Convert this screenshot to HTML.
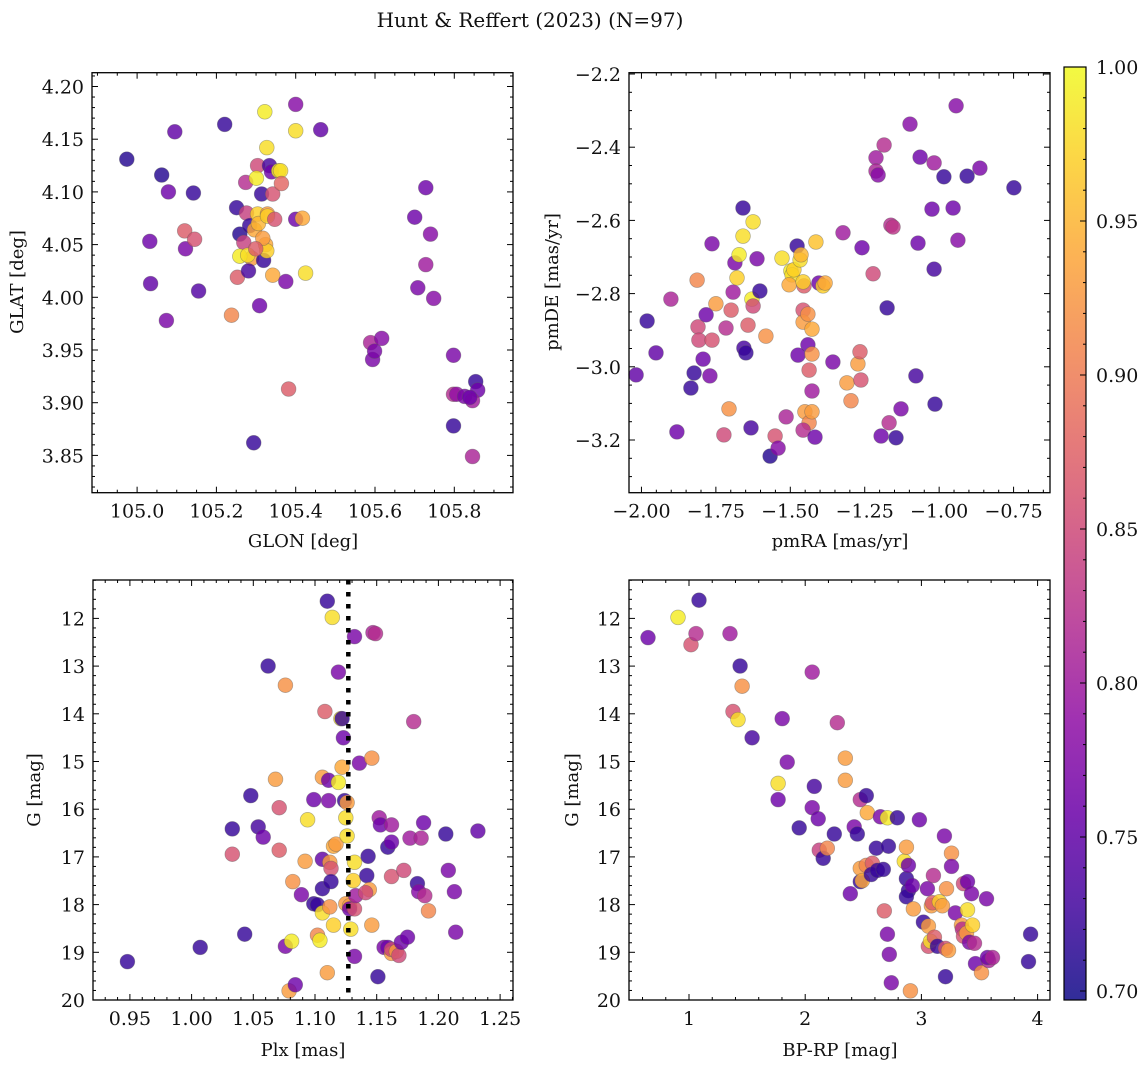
<!DOCTYPE html>
<html><head><meta charset="utf-8"><style>
html,body{margin:0;padding:0;background:#fff;}
svg text{font-family:"DejaVu Serif","Liberation Serif",serif;fill:#111;}
</style></head><body>
<svg id="fig" width="1148" height="1068" viewBox="0 0 1148 1068" xmlns="http://www.w3.org/2000/svg">
<text x="530" y="27" text-anchor="middle" font-size="20">Hunt &amp; Reffert (2023) (N=97)</text>
<text x="303" y="547" text-anchor="middle" font-size="18">GLON [deg]</text>
<text x="840" y="547" text-anchor="middle" font-size="18">pmRA [mas/yr]</text>
<text x="303" y="1056" text-anchor="middle" font-size="18">Plx [mas]</text>
<text x="840" y="1056" text-anchor="middle" font-size="18">BP-RP [mag]</text>
<text transform="translate(23,282) rotate(-90)" text-anchor="middle" font-size="18">GLAT [deg]</text>
<text transform="translate(558,282) rotate(-90)" text-anchor="middle" font-size="18">pmDE [mas/yr]</text>
<text transform="translate(40,790) rotate(-90)" text-anchor="middle" font-size="18">G [mag]</text>
<text transform="translate(578,790) rotate(-90)" text-anchor="middle" font-size="18">G [mag]</text>
</svg>
<script>
// ---- data ----
const tlLon=[104.974,105.062,105.095,105.079,105.032,105.034,105.074,105.120,105.122,105.145,105.142,105.155,105.221,105.251,105.238,105.253,105.259,105.269,105.274,105.276,105.284,105.294,105.289,105.259,105.279,105.281,105.296,105.304,105.301,105.304,105.306,105.309,105.314,105.319,105.322,105.327,105.329,105.324,105.329,105.334,105.339,105.342,105.347,105.357,105.362,105.364,105.342,105.375,105.382,105.400,105.400,105.400,105.417,105.425,105.463,105.327,105.317,105.299,105.700,105.728,105.708,105.728,105.740,105.748,105.589,105.594,105.599,105.617,105.798,105.798,105.806,105.826,105.854,105.859,105.846,105.846,105.798,105.839];
const tlLat=[4.131,4.116,4.157,4.100,4.053,4.013,3.978,4.063,4.046,4.055,4.099,4.006,4.164,4.085,3.983,4.019,4.060,4.052,4.109,4.080,4.068,3.862,4.037,4.039,4.040,4.025,4.064,4.125,4.113,4.079,4.070,3.992,4.098,4.035,4.176,4.142,4.079,4.050,4.077,4.125,4.119,4.098,4.074,4.120,4.120,4.108,4.021,4.015,3.913,4.183,4.158,4.074,4.075,4.023,4.159,4.044,4.056,4.046,4.076,4.104,4.009,4.031,4.060,3.999,3.957,3.941,3.949,3.961,3.945,3.908,3.908,3.906,3.920,3.912,3.902,3.849,3.878,3.905];
const tlProb=[.71,.71,.75,.76,.76,.75,.77,.87,.77,.86,.72,.74,.72,.72,.91,.87,.71,.84,.82,.84,.72,.72,.93,.99,.98,.73,.94,.85,.99,.97,.95,.76,.72,.72,.99,.98,.93,.94,.97,.73,.76,.86,.86,.99,.98,.88,.94,.77,.87,.78,.98,.76,.94,.98,.75,.97,.93,.87,.76,.76,.77,.80,.78,.78,.81,.77,.77,.78,.77,.82,.79,.77,.72,.76,.80,.81,.72,.76];

const trPmra=[-2.018,-1.981,-1.951,-1.901,-1.881,-1.834,-1.823,-1.813,-1.810,-1.807,-1.793,-1.783,-1.770,-1.763,-1.763,-1.750,-1.723,-1.716,-1.706,-1.699,-1.692,-1.686,-1.679,-1.672,-1.659,-1.659,-1.656,-1.649,-1.642,-1.632,-1.629,-1.625,-1.625,-1.612,-1.602,-1.582,-1.568,-1.551,-1.541,-1.528,-1.514,-1.498,-1.494,-1.504,-1.488,-1.477,-1.467,-1.464,-1.454,-1.457,-1.457,-1.457,-1.441,-1.441,-1.437,-1.427,-1.451,-1.437,-1.474,-1.457,-1.427,-1.427,-1.427,-1.417,-1.414,-1.404,-1.390,-1.383,-1.357,-1.323,-1.310,-1.296,-1.273,-1.266,-1.263,-1.259,-1.222,-1.212,-1.212,-1.205,-1.195,-1.185,-1.175,-1.168,-1.162,-1.155,-1.145,-1.128,-1.098,-1.078,-1.071,-1.064,-1.024,-1.017,-1.014,-1.017,-0.943,-0.953,-0.937,-0.984,-0.906,-0.863,-0.749];
const trPmde=[-3.022,-2.875,-2.962,-2.815,-3.178,-3.058,-3.017,-2.763,-2.891,-2.927,-2.979,-2.858,-3.025,-2.664,-2.927,-2.828,-3.186,-2.894,-3.115,-2.845,-2.796,-2.716,-2.757,-2.694,-2.566,-2.643,-2.949,-2.962,-2.886,-3.167,-2.815,-2.834,-2.604,-2.705,-2.793,-2.916,-3.244,-3.189,-3.222,-2.703,-3.137,-2.738,-2.749,-2.776,-2.735,-2.670,-2.708,-2.694,-2.779,-2.768,-2.845,-2.878,-2.856,-2.940,-3.009,-3.066,-3.123,-3.153,-2.968,-3.173,-3.123,-2.897,-2.965,-3.192,-2.659,-2.771,-2.779,-2.771,-2.987,-2.634,-3.044,-3.093,-2.992,-2.959,-3.036,-2.675,-2.746,-2.429,-2.465,-2.476,-3.189,-2.394,-2.839,-3.153,-2.613,-2.618,-3.194,-3.115,-2.337,-3.025,-2.662,-2.427,-2.569,-2.443,-3.102,-2.733,-2.287,-2.566,-2.654,-2.481,-2.479,-2.457,-2.511];
const trProb=[.75,.72,.75,.81,.76,.72,.72,.91,.85,.85,.76,.76,.77,.77,.86,.93,.85,.82,.92,.87,.80,.77,.97,.99,.72,.98,.73,.72,.87,.73,.99,.85,.98,.77,.72,.92,.71,.86,.78,.98,.81,.99,.98,.94,.97,.72,.98,.95,.87,.97,.86,.93,.92,.76,.87,.80,.93,.91,.76,.82,.93,.94,.92,.76,.96,.76,.97,.94,.77,.80,.93,.91,.93,.87,.86,.76,.85,.80,.81,.78,.76,.82,.72,.82,.82,.83,.72,.77,.78,.73,.76,.76,.76,.80,.72,.73,.78,.76,.78,.72,.72,.77,.72];

const blPlx=[0.948,1.007,1.043,1.048,1.033,1.033,1.054,1.058,1.062,1.068,1.071,1.071,1.076,1.076,1.079,1.081,1.082,1.084,1.089,1.094,1.092,1.099,1.099,1.102,1.102,1.104,1.106,1.106,1.106,1.106,1.108,1.110,1.110,1.111,1.111,1.112,1.112,1.113,1.113,1.114,1.115,1.115,1.117,1.119,1.121,1.122,1.119,1.122,1.123,1.124,1.125,1.126,1.126,1.125,1.128,1.128,1.129,1.131,1.132,1.132,1.132,1.133,1.132,1.136,1.142,1.144,1.141,1.143,1.146,1.146,1.147,1.149,1.151,1.152,1.153,1.156,1.159,1.159,1.162,1.162,1.162,1.162,1.162,1.166,1.168,1.170,1.172,1.175,1.177,1.180,1.183,1.184,1.186,1.189,1.192,1.188,1.206,1.208,1.214,1.213,1.232];
const blG=[19.194,18.897,18.621,15.714,16.944,16.414,16.371,16.584,12.997,15.374,16.859,15.968,13.401,18.875,19.809,18.769,17.517,19.682,17.793,16.223,17.093,15.798,17.984,18.642,18.005,18.748,17.666,18.175,17.050,15.332,13.952,11.639,19.427,15.395,15.820,18.048,17.114,17.241,17.517,11.979,18.430,16.775,16.732,13.125,14.101,14.101,15.438,15.119,14.504,15.820,16.180,16.562,15.862,17.984,18.026,18.090,18.514,17.496,17.114,18.090,19.087,17.814,12.382,15.034,17.390,17.687,17.751,16.987,18.430,14.928,12.297,12.318,19.512,16.180,16.329,18.897,18.897,16.796,16.690,16.329,17.411,19.024,18.939,18.982,19.066,18.790,17.284,18.684,16.605,14.164,17.560,17.729,16.605,17.814,18.133,16.286,16.520,17.284,18.578,17.729,16.456];
const blProb=[.72,.72,.72,.72,.86,.72,.73,.76,.72,.93,.87,.86,.92,.77,.93,.99,.92,.76,.77,.98,.93,.76,.72,.91,.72,.99,.72,.98,.75,.93,.87,.72,.93,.76,.77,.92,.93,.86,.72,.98,.97,.94,.93,.77,.98,.72,.99,.94,.76,.72,.98,.98,.93,.93,.93,.76,.98,.97,.98,.86,.77,.80,.77,.77,.72,.93,.85,.72,.93,.92,.81,.82,.72,.80,.76,.77,.76,.72,.76,.80,.86,.93,.85,.93,.85,.76,.85,.76,.80,.82,.72,.78,.81,.82,.91,.76,.72,.77,.77,.77,.75];
const plxMean=1.127;

const brColor=[0.647,0.905,1.017,1.060,1.086,1.353,1.440,1.457,1.379,1.422,1.543,1.767,1.767,1.802,1.845,1.948,2.060,2.078,2.060,2.112,2.121,2.155,2.190,2.250,2.276,2.345,2.345,2.388,2.422,2.448,2.474,2.474,2.474,2.491,2.534,2.526,2.526,2.578,2.569,2.612,2.621,2.647,2.672,2.681,2.707,2.707,2.716,2.724,2.741,2.793,2.853,2.871,2.888,2.888,2.871,2.871,2.905,2.922,2.931,2.983,3.017,3.052,3.060,3.060,3.078,3.086,3.095,3.103,3.112,3.138,3.155,3.181,3.198,3.207,3.207,3.216,3.233,3.259,3.259,3.293,3.345,3.362,3.353,3.362,3.388,3.397,3.397,3.414,3.431,3.440,3.457,3.466,3.517,3.578,3.560,3.569,3.612,3.940,3.922];
const brG=[12.403,11.979,12.552,12.318,11.618,12.318,12.997,13.422,13.952,14.122,14.504,15.459,15.798,14.101,15.013,16.392,13.125,15.523,15.968,16.202,16.859,17.029,16.817,16.520,14.186,14.928,15.395,17.772,16.371,16.520,15.798,17.517,17.241,17.496,16.074,15.714,17.178,17.135,17.369,16.817,17.284,16.159,17.263,18.133,18.621,16.180,16.775,19.045,19.639,16.180,17.093,17.454,17.178,17.708,17.836,16.796,19.809,17.602,18.090,16.223,18.366,17.666,18.875,18.451,18.769,18.026,17.963,17.390,18.684,18.875,17.942,18.026,16.562,18.918,19.512,17.666,18.960,16.923,17.199,18.175,18.430,17.560,18.514,18.663,18.600,17.517,18.111,18.790,17.772,18.430,18.812,19.236,19.427,19.172,17.878,19.109,19.109,18.621,19.194];
const brProb=[.76,.99,.86,.82,.72,.80,.72,.92,.86,.98,.73,.98,.76,.77,.77,.72,.80,.73,.77,.76,.84,.72,.91,.72,.82,.93,.93,.76,.77,.72,.82,.72,.93,.94,.94,.72,.91,.87,.72,.72,.72,.77,.72,.87,.77,.99,.72,.77,.77,.72,.98,.72,.76,.72,.72,.93,.92,.76,.93,.76,.72,.77,.86,.93,.98,.93,.87,.82,.87,.72,.97,.93,.77,.86,.72,.92,.93,.92,.77,.77,.93,.85,.82,.86,.93,.76,.98,.77,.77,.97,.82,.76,.92,.81,.77,.76,.81,.72,.72];

const cbTicks=[0.70,0.75,0.80,0.85,0.90,0.95,1.00];
const cbMin=0.697, cbMax=1.0;

// ---- helpers ----
const NS='http://www.w3.org/2000/svg';
const svg=document.getElementById('fig');
function mk(tag,attrs,parent){const e=document.createElementNS(NS,tag);for(const k in attrs)e.setAttribute(k,attrs[k]);(parent||svg).appendChild(e);return e;}
const stops=[[13,8,135],[65,4,157],[106,0,168],[143,13,164],[177,42,144],[204,71,120],[225,100,98],[242,132,75],[252,166,54],[252,206,37],[240,249,33]];
function plasma(t){t=Math.max(0,Math.min(1,t));const f=t*10,i=Math.min(9,Math.floor(f)),u=f-i;const a=stops[i],b=stops[i+1];return 'rgb('+a.map((v,k)=>Math.round(v+(b[k]-v)*u)).join(',')+')';}
function cmap(p){return plasma((p-cbMin)/(cbMax-cbMin));}
function fmt(v,d){const s=Math.abs(v).toFixed(d);return (v<-1e-9?'\u2212':'')+s;}

function panel(cfg){
  const g=mk('g',{});
  
  
  const {x0,x1,y0,y1}=cfg;
  const pg=mk('g',{},g);
  
  
  if(cfg.vline!==undefined){
    const l=mk('line',{x1:cfg.sx(cfg.vline),x2:cfg.sx(cfg.vline),y1:y0,y2:y1,stroke:'#000','stroke-width':4.5,'stroke-dasharray':'4.5,7.5'},g);
    
    
  }
  for(let i=0;i<cfg.xs.length;i++){
    const c=mk('circle',{cx:cfg.sx(cfg.xs[i]).toFixed(1),cy:cfg.sy(cfg.ys[i]).toFixed(1),r:7.4,fill:cmap(cfg.ps[i]),'fill-opacity':0.82,stroke:'rgba(90,90,90,0.45)','stroke-width':0.7},pg);
    
    
  }
  const tg=mk('g',{stroke:'#000','stroke-width':1},g);
  
  
  const xlo=Math.min(cfg.ix(x0),cfg.ix(x1)),xhi=Math.max(cfg.ix(x0),cfg.ix(x1));
  for(let k=Math.ceil(xlo/cfg.xmin-1e-6);k*cfg.xmin<=xhi+1e-9;k++){
    const v=k*cfg.xmin,px=cfg.sx(v);if(px<x0-0.5||px>x1+0.5)continue;
    const major=Math.abs(v/cfg.xmaj-Math.round(v/cfg.xmaj))<1e-6;const L=major?6:3;
    mk('line',{x1:px,x2:px,y1:y1,y2:y1-L},tg);mk('line',{x1:px,x2:px,y1:y0,y2:y0+L},tg);
    if(major){const t=mk('text',{x:px,y:y1+25,'text-anchor':'middle','font-size':19,stroke:'none'},g);t.textContent=fmt(v,cfg.xd);
      
      }
  }
  const ylo=Math.min(cfg.iy(y0),cfg.iy(y1)),yhi=Math.max(cfg.iy(y0),cfg.iy(y1));
  for(let k=Math.ceil(ylo/cfg.ymin-1e-6);k*cfg.ymin<=yhi+1e-9;k++){
    const v=k*cfg.ymin,py=cfg.sy(v);if(py<y0-0.5||py>y1+0.5)continue;
    const major=Math.abs(v/cfg.ymaj-Math.round(v/cfg.ymaj))<1e-6;const L=major?6:3;
    mk('line',{x1:x0,x2:x0+L,y1:py,y2:py},tg);mk('line',{x1:x1,x2:x1-L,y1:py,y2:py},tg);
    if(major){const t=mk('text',{x:x0-8,y:py+7,'text-anchor':'end','font-size':19,stroke:'none'},g);t.textContent=fmt(v,cfg.yd);
      
      }
  }
  const fr=mk('rect',{x:x0,y:y0,width:x1-x0,height:y1-y0,fill:'none',stroke:'#000','stroke-width':1.3},g);
  
  
}
function lin(v0,p0,scale){return [v=>p0+(v-v0)*scale, p=>v0+(p-p0)/scale];}

let a,b;
[a,b]=lin(105.8,454.3,396.5);const tlx=a,tlix=b;
[a,b]=lin(4.0,297.3,-1054);const tly=a,tliy=b;
panel({name:'glon-glat-panel',x0:92,x1:513,y0:72.7,y1:492.7,sx:tlx,ix:tlix,sy:tly,iy:tliy,xs:tlLon,ys:tlLat,ps:tlProb,xmaj:0.2,xmin:0.05,xd:1,ymaj:0.05,ymin:0.01,yd:2});
[a,b]=lin(-1.5,790.3,297.7);const trx=a,trix=b;
[a,b]=lin(-2.2,74,-366);const try_=a,triy=b;
panel({name:'pm-panel',x0:629,x1:1050,y0:72.7,y1:492.7,sx:trx,ix:trix,sy:try_,iy:triy,xs:trPmra,ys:trPmde,ps:trProb,xmaj:0.25,xmin:0.05,xd:2,ymaj:0.2,ymin:0.05,yd:1});
[a,b]=lin(1.1,315,1234);const blx=a,blix=b;
[a,b]=lin(20,1000,47.7);const gy=a,giy=b;
panel({name:'plx-g-panel',x0:93,x1:513,y0:580,y1:1000,sx:blx,ix:blix,sy:gy,iy:giy,xs:blPlx,ys:blG,ps:blProb,xmaj:0.05,xmin:0.01,xd:2,ymaj:1,ymin:0.2,yd:0,vline:plxMean});
[a,b]=lin(1,689,116.2);const brx=a,brix=b;
panel({name:'cmd-panel',x0:629,x1:1050,y0:580,y1:1000,sx:brx,ix:brix,sy:gy,iy:giy,xs:brColor,ys:brG,ps:brProb,xmaj:1,xmin:0.2,xd:0,ymaj:1,ymin:0.2,yd:0});

// colorbar
const defs=mk('defs',{});
const grad=mk('linearGradient',{id:'cbg',x1:0,y1:1,x2:0,y2:0},defs);
for(let i=0;i<=20;i++){mk('stop',{offset:(i/20),'stop-color':plasma(i/20),'stop-opacity':0.85},grad);}
const cbY=v=>991-(v-0.70)*3080;
const cb=mk('g',{});


mk('rect',{x:1064,y:67,width:22,height:933,fill:'url(#cbg)',stroke:'#000','stroke-width':1.2},cb);
for(let k=70;k<=100;k++){const v=k/100,py=cbY(v);const major=k%5===0;mk('line',{x1:1086,x2:1086-(major?6:3),y1:py,y2:py,stroke:'#000','stroke-width':1},cb);}
for(const v of cbTicks){const t=mk('text',{x:1096,y:cbY(v)+7,'font-size':19},cb);t.textContent=v.toFixed(2);
  
  }
</script>
</body></html>
